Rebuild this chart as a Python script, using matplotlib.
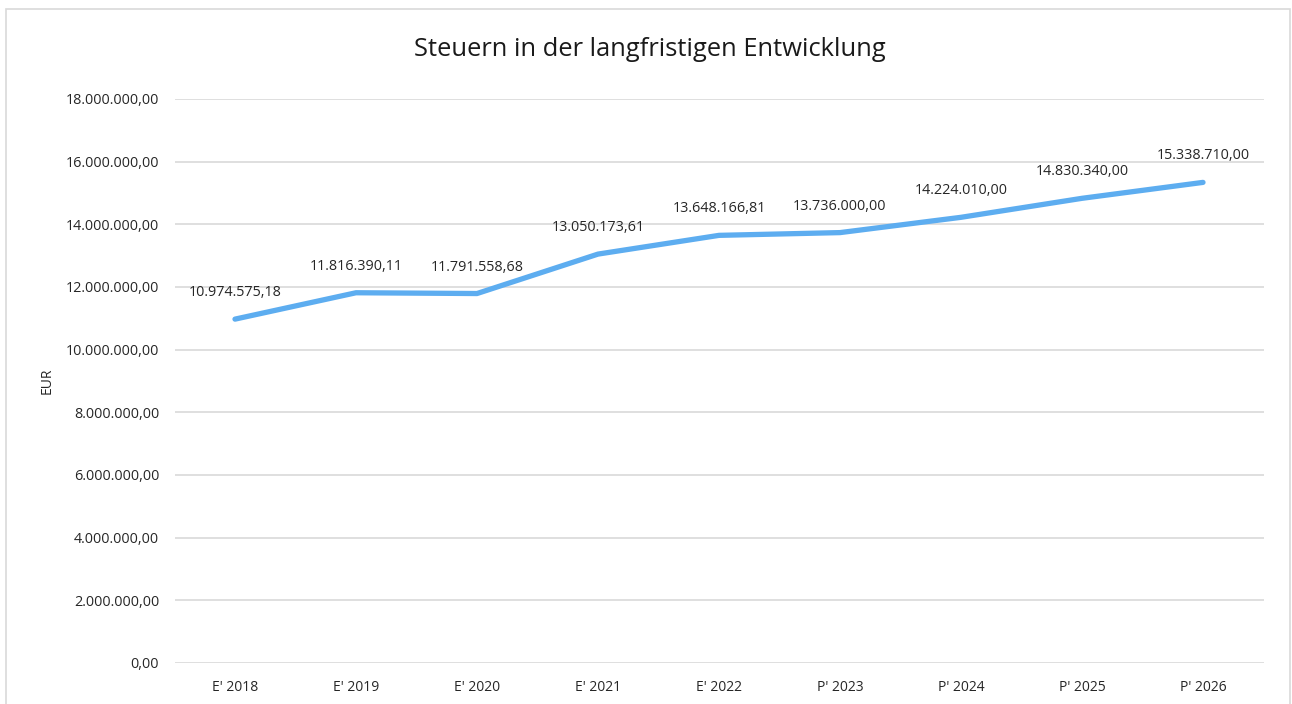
import matplotlib
matplotlib.use("Agg")
import matplotlib.pyplot as plt
from matplotlib.patches import Rectangle
from matplotlib.ticker import FuncFormatter

categories = ["E' 2018", "E' 2019", "E' 2020", "E' 2021", "E' 2022",
              "P' 2023", "P' 2024", "P' 2025", "P' 2026"]
values = [10974575.18, 11816390.11, 11791558.68, 13050173.61, 13648166.81,
          13736000.00, 14224010.00, 14830340.00, 15338710.00]
yticks = [0, 2000000, 4000000, 6000000, 8000000, 10000000,
          12000000, 14000000, 16000000, 18000000]

plt.rcParams['font.family'] = ['Open Sans', 'DejaVu Sans']

def de_fmt(v, pos=None):
    s = f"{v:,.2f}"
    return s.replace(",", "X").replace(".", ",").replace("X", ".")

W, H = 1292, 704
fig = plt.figure(figsize=(W / 100, H / 100), dpi=100)
fig.patch.set_facecolor("white")

# border of the chart area
fig.add_artist(Rectangle((6 / W, -0.02), (1290 - 6) / W, 1.02 - 9 / H,
                         transform=fig.transFigure, fill=False,
                         edgecolor="#d9d9d9", linewidth=1.2))

left, right = 174.5 / W, 1263.5 / W
bottom, top = 1 - 663 / H, 1 - 99 / H
ax = fig.add_axes([left, bottom, right - left, top - bottom])

x = list(range(len(categories)))
ax.plot(x, values, color="#5DADF0", linewidth=3.8, solid_capstyle="round",
        solid_joinstyle="round", zorder=3)

for xi, v in zip(x, values):
    ax.annotate(de_fmt(v), (xi, v), xytext=(0, 19), textcoords="offset points",
                ha="center", va="center", fontsize=10.4, color="#262626")

ax.set_xlim(-0.5, len(categories) - 0.5)
ax.set_ylim(0, 18000000)
ax.set_yticks(yticks)
ax.yaxis.set_major_formatter(FuncFormatter(de_fmt))
ax.set_xticks(x)
ax.set_xticklabels(categories)
ax.grid(axis="y", color="#d9d9d9", linewidth=1.2)
ax.set_axisbelow(True)
for s in ax.spines.values():
    s.set_visible(False)
ax.tick_params(axis="y", length=0, labelsize=10.4, colors="#262626", pad=11)
ax.tick_params(axis="x", length=0, labelsize=10, colors="#262626", pad=12)

fig.text(47 / W, 1 - 381 / H, "EUR", rotation=90, ha="center", va="center",
         fontsize=10, color="#262626")
fig.text(650 / W, 1 - 49 / H, "Steuern in der langfristigen Entwicklung",
         ha="center", va="center", fontsize=18.4, color="#1a1a1a")

fig.savefig("out.png", dpi=100, facecolor="white")
